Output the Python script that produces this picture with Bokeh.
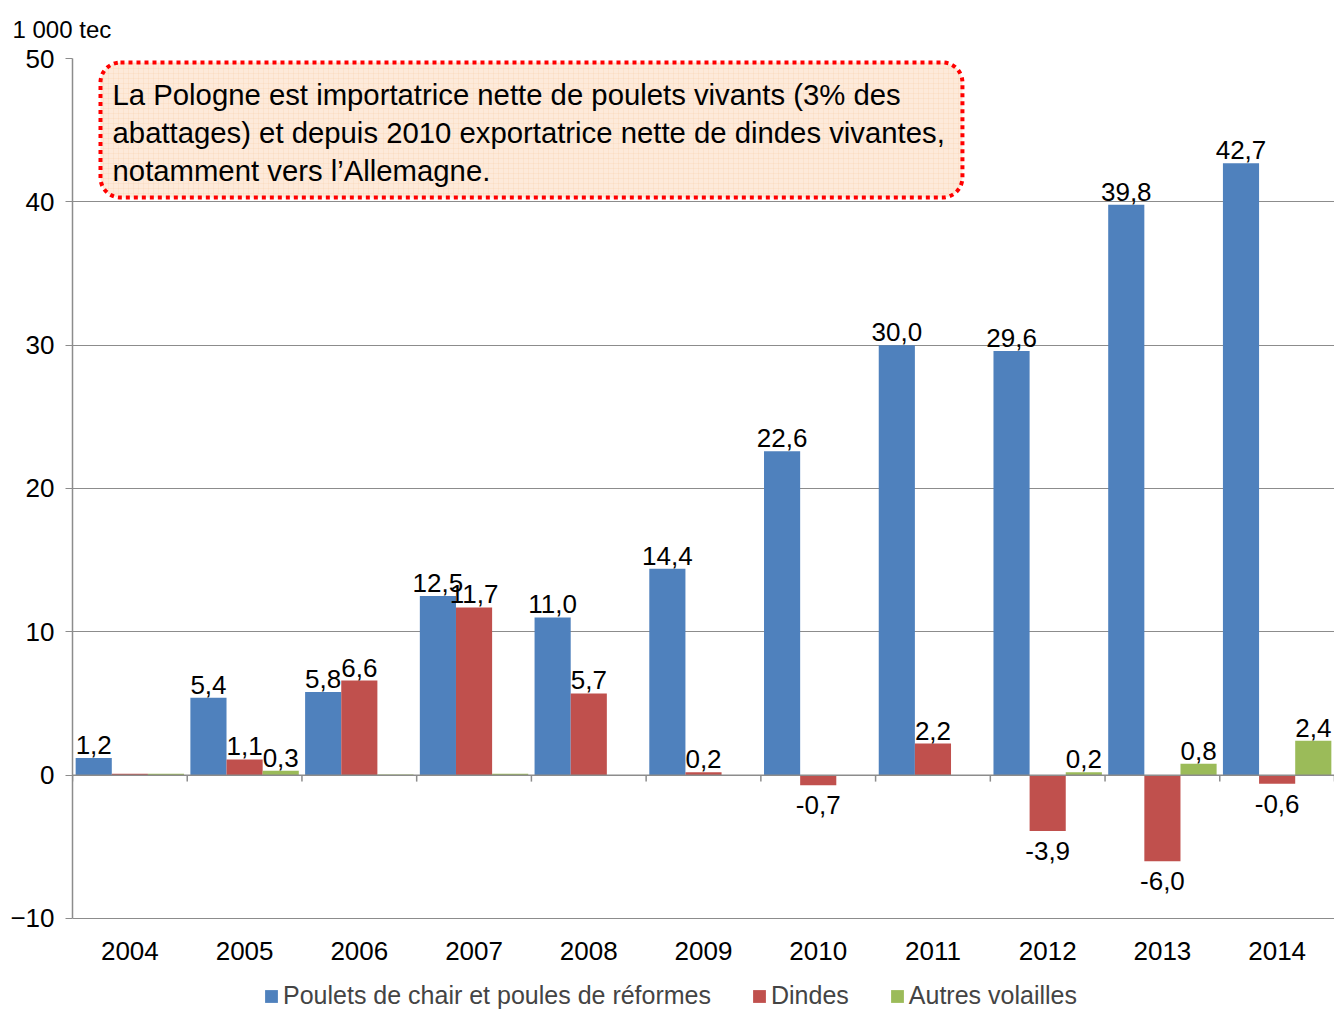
from bokeh.plotting import figure
from bokeh.models import (ColumnDataSource, FactorRange, Span, BoxAnnotation, Label,
                          Legend, LegendItem, FixedTicker)
from bokeh.transform import dodge
from bokeh.core.properties import value
from bokeh.embed import file_html
from bokeh.resources import INLINE

years = ["2004", "2005", "2006", "2007", "2008", "2009", "2010", "2011", "2012", "2013", "2014"]
poulets = [1.2, 5.4, 5.8, 12.5, 11.0, 14.4, 22.6, 30.0, 29.6, 39.8, 42.7]
dindes = [0.1, 1.1, 6.6, 11.7, 5.7, 0.2, -0.7, 2.2, -3.9, -6.0, -0.6]
autres = [0.1, 0.3, 0.05, 0.1, 0.0, 0.0, 0.0, 0.0, 0.2, 0.8, 2.4]
y_ticks = [-10, 0, 10, 20, 30, 40, 50]
series_names = ["Poulets de chair et poules de réformes", "Dindes", "Autres volailles"]
series_colors = ["#4F81BD", "#C0504D", "#9BBB59"]
note_lines = ["La Pologne est importatrice nette de poulets vivants (3% des",
              "abattages) et depuis 2010 exportatrice nette de dindes vivantes,",
              "notamment vers l\u2019Allemagne."]
unit_label = "1 000 tec"

FONT = "Liberation Sans"
BW = 0.315
offsets = [-BW, 0.0, BW]
Y_MIN, Y_MAX = -10, 50
Y_VIEW_MIN = -16.42  # extra room under the plot for year labels and legend

p = figure(width=1334, height=1010, x_range=FactorRange(*years), y_range=(Y_VIEW_MIN, Y_MAX),
           output_backend="svg", toolbar_location=None,
           min_border_left=72, min_border_right=0, min_border_top=58, min_border_bottom=0)
p.outline_line_color = None
p.background_fill_color = "white"
p.border_fill_color = "white"

# unit label above the y axis, as the plot title
p.title.text = unit_label
p.title.align = "left"
p.title.vertical_align = "top"
p.title.offset = -60
p.title.standoff = 28
p.title.text_font = FONT
p.title.text_font_size = "24px"
p.title.text_font_style = "normal"
p.title.text_color = "black"

# grid
p.xgrid.visible = False
p.ygrid.ticker = FixedTicker(ticks=y_ticks)
p.ygrid.grid_line_color = "#8C8C8C"
p.ygrid.grid_line_width = 1

# y axis
p.yaxis.ticker = FixedTicker(ticks=y_ticks)
p.yaxis.bounds = (Y_MIN, Y_MAX)
p.yaxis.axis_line_color = "#8C8C8C"
p.yaxis.axis_line_width = 1.5
p.yaxis.major_tick_line_color = "#8C8C8C"
p.yaxis.major_tick_out = 7
p.yaxis.major_tick_in = 0
p.yaxis.minor_tick_line_color = None
p.yaxis.major_label_text_font = FONT
p.yaxis.major_label_text_font_size = "26px"
p.yaxis.major_label_text_color = "black"
p.yaxis.major_label_standoff = 11

# x axis hidden; year labels drawn as text below the -10 line
p.xaxis.visible = False
ysrc = ColumnDataSource(dict(year=years, y=[Y_MIN] * len(years)))
p.text(x="year", y="y", text="year", source=ysrc, text_font=value(FONT),
       text_font_size="26px", text_color="black", text_align="center",
       text_baseline="middle", y_offset=33)

# note box
box = BoxAnnotation(left=0.244, right=7.757, top=49.72, bottom=40.3,
                    fill_color="#FDEADA", fill_alpha=1.0,
                    hatch_pattern="+", hatch_color="#F7CDA8", hatch_alpha=0.45, hatch_scale=5,
                    hatch_weight=0.6,
                    line_color="#FF0000", line_alpha=1.0, line_width=4, line_dash="4 4",
                    border_radius=20, level="underlay")
p.add_layout(box)

# zero line
p.add_layout(Span(location=0, dimension="width", line_color="#8C8C8C", line_width=1.5))

# category boundary ticks on zero line
p.segment(x0=dodge("year", -0.5, range=p.x_range), x1=dodge("year", -0.5, range=p.x_range),
          y0=0, y1=-0.45, source=ColumnDataSource(dict(year=years)),
          line_color="#8C8C8C", line_width=1.5)
p.segment(x0=dodge("year", 0.5, range=p.x_range), x1=dodge("year", 0.5, range=p.x_range),
          y0=0, y1=-0.45, source=ColumnDataSource(dict(year=years[-1:])),
          line_color="#8C8C8C", line_width=1.5)

src = ColumnDataSource(dict(year=years, s0=poulets, s1=dindes, s2=autres))
renderers = []
for i, (col, off, color) in enumerate(zip(["s0", "s1", "s2"], offsets, series_colors)):
    r = p.vbar(x=dodge("year", off, range=p.x_range), top=col, bottom=0, width=BW,
               source=src, fill_color=color, line_color=None)
    renderers.append(r)

def fmt(v):
    return ("%.1f" % v).replace(".", ",")

all_vals = [poulets, dindes, autres]
for i, (vals, off) in enumerate(zip(all_vals, offsets)):
    pos = dict(year=[], y=[], t=[])
    neg = dict(year=[], y=[], t=[])
    for yr, v in zip(years, vals):
        if i > 0 and abs(v) < 0.15:
            continue
        d = pos if v >= 0 else neg
        d["year"].append(yr)
        d["y"].append(v)
        d["t"].append(fmt(v))
    p.text(x=dodge("year", off, range=p.x_range), y="y", text="t", source=ColumnDataSource(pos),
           text_font=value(FONT), text_font_size="26px", text_color="black",
           text_align="center", text_baseline="bottom", y_offset=-4)
    p.text(x=dodge("year", off, range=p.x_range), y="y", text="t", source=ColumnDataSource(neg),
           text_font=value(FONT), text_font_size="26px", text_color="black",
           text_align="center", text_baseline="top", y_offset=11)

# note text
for line, yy in zip(note_lines, [47.49, 44.84, 42.19]):
    p.add_layout(Label(x=0.349, y=yy, text=line, text_font=FONT, text_font_size="29.3px",
                       text_color="black", text_baseline="middle", text_align="left"))

legend = Legend(items=[LegendItem(label=n, renderers=[r]) for n, r in zip(series_names, renderers)],
                orientation="horizontal", location=(191, 0),
                glyph_width=16, glyph_height=16, label_text_font=FONT,
                label_text_font_size="25px", label_standoff=4, spacing=40,
                border_line_color=None, background_fill_alpha=0, padding=0, margin=0)
p.add_layout(legend)

open("out.html", "w").write(file_html(p, INLINE))
